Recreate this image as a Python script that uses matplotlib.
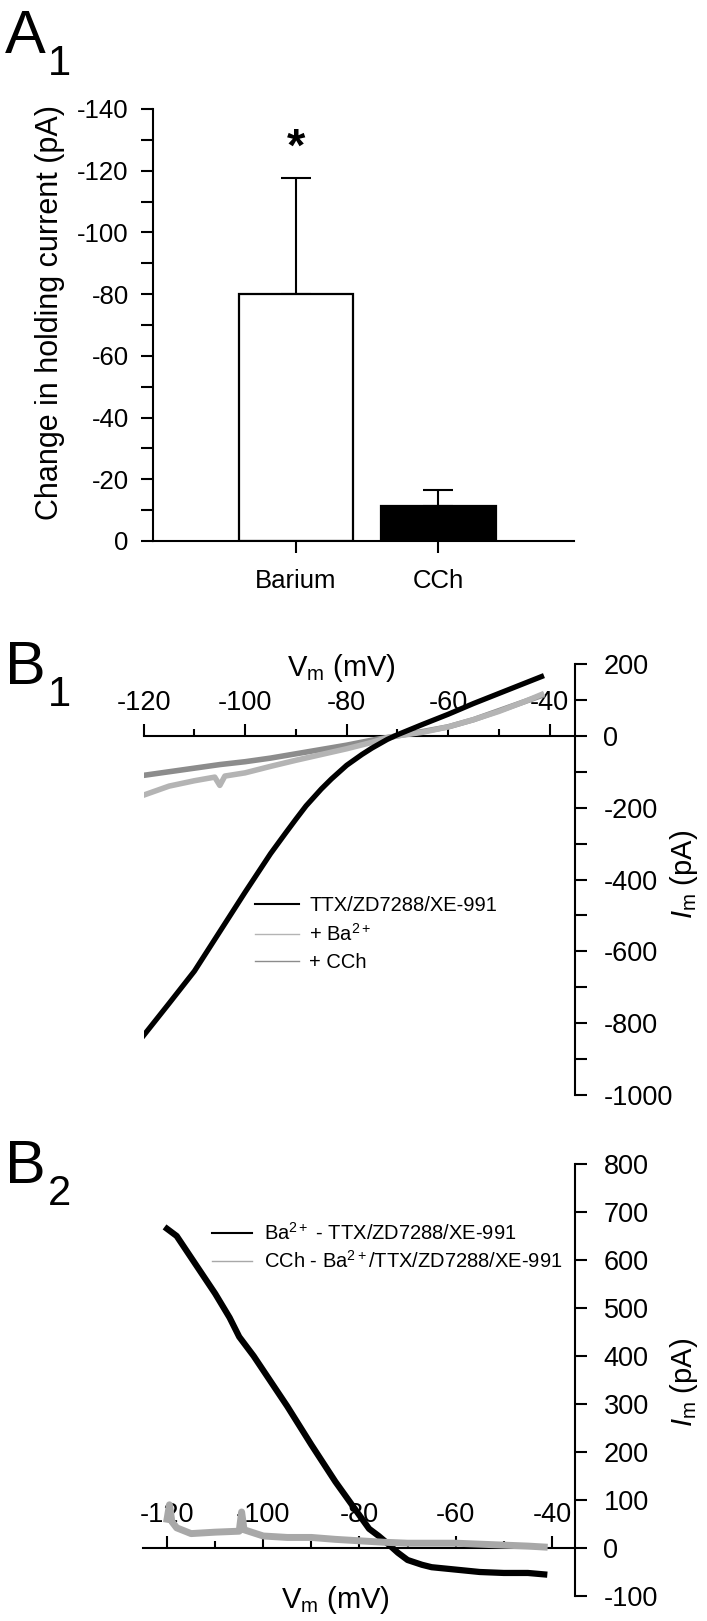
import numpy as np
import matplotlib.pyplot as plt
from matplotlib.ticker import MultipleLocator

plt.rcParams['font.family'] = ['Liberation Sans', 'DejaVu Sans']
plt.rcParams['mathtext.fontset'] = 'custom'
plt.rcParams['mathtext.rm'] = 'Liberation Sans'
plt.rcParams['mathtext.it'] = 'Liberation Sans:italic'
plt.rcParams['axes.unicode_minus'] = False

# ---- A1: change in holding current ----
groups = ['Barium', 'CCh']
holding_change = [-80.2, -11.3]
holding_sem = [37.5, 5.2]
bar_colors = ['white', 'black']

# ---- B1: I-V curves ----
vm_ttx = [-120, -115, -110, -105, -100, -95, -92, -90, -88, -85, -83, -80, -77, -75,
          -72, -70, -65, -60, -55, -50, -45, -41.6]
im_ttx = [-834, -745, -655, -545, -435, -328, -270, -232, -195, -148, -120, -82, -52, -34,
          -10, 3, 32, 60, 90, 118, 146, 165]
vm_ba = [-120, -117, -115, -110, -106, -105, -104, -100, -95, -90, -85, -80, -75,
         -72, -70, -65, -60, -55, -50, -45, -41.6]
im_ba = [-165, -150, -140, -125, -115, -138, -112, -103, -85, -68, -52, -36, -18,
         -5, 0, 10, 25, 45, 68, 95, 115]
vm_cch = [-120, -115, -110, -105, -100, -95, -90, -85, -80, -75, -70, -65, -60,
          -55, -50, -45, -41.6]
im_cch = [-110, -100, -90, -80, -72, -62, -50, -38, -26, -12, 0, 12, 25,
          45, 70, 95, 112]

# ---- B2: difference currents ----
vm_diff_ba = [-120, -118, -115, -112, -110, -107, -105, -102, -100, -95, -90, -85,
              -80, -78, -76, -74, -72, -70, -67, -65, -60, -55, -50, -45, -41.6]
im_diff_ba = [665, 650, 605, 560, 530, 480, 440, 400, 370, 295, 215, 138,
              68, 40, 25, 8, -10, -25, -35, -40, -45, -50, -52, -52, -55]
vm_diff_cch = [-120, -119.5, -119, -118, -115, -110, -105, -104.5, -104, -100, -95, -90,
               -85, -80, -75, -70, -65, -60, -55, -50, -45, -41.6]
im_diff_cch = [60, 90, 55, 42, 30, 33, 35, 75, 38, 25, 22, 22,
               18, 15, 12, 10, 10, 10, 8, 6, 4, 2]

W, H = 707, 1621
fig = plt.figure(figsize=(W / 100, H / 100), dpi=100)


def rect(left, right, top, bottom):
    return [left / W, 1 - bottom / H, (right - left) / W, (bottom - top) / H]


# panel letters
for letter, sub, base in [('A', '1', 53), ('B', '1', 684), ('B', '2', 1183)]:
    fig.text(5 / W, 1 - base / H, letter, fontsize=44, va='baseline', ha='left')
    fig.text(48 / W, 1 - (base + 22) / H, sub, fontsize=30, va='baseline', ha='left')

# ---------------- A1 ----------------
axA = fig.add_axes(rect(153, 574, 109, 541))
xpos = np.arange(1, len(groups) + 1)
axA.bar(xpos, holding_change, width=0.8, color=bar_colors, edgecolor='black',
        linewidth=1.6, zorder=2)
axA.errorbar(xpos, holding_change, yerr=[holding_sem, [0, 0]], fmt='none',
             ecolor='black', elinewidth=1.5, capsize=10.5, capthick=1.5, zorder=1)
axA.text(xpos[0], -127, '*', ha='center', va='center', fontsize=34, fontweight='bold')
axA.set_xlim(0, 2.95)
axA.set_ylim(0, -140)
axA.yaxis.set_major_locator(MultipleLocator(20))
axA.yaxis.set_minor_locator(MultipleLocator(10))
axA.set_xticks(xpos)
axA.set_xticklabels(groups)
for s in ['top', 'right']:
    axA.spines[s].set_visible(False)
for s in ['left', 'bottom']:
    axA.spines[s].set_linewidth(1.5)
axA.tick_params(axis='both', which='both', direction='out', length=8.5, width=1.5,
                labelsize=18.5)
axA.tick_params(axis='y', pad=9)
axA.tick_params(axis='x', pad=12)
fig.text(50 / W, 1 - 312 / H, 'Change in holding current (pA)', rotation=90,
         ha='center', va='center', fontsize=22)


# ---------------- B axes helper ----------------
def iv_axes(r, xlim, ylim, ymajor, yminor):
    ax = fig.add_axes(r)
    ax.set_xlim(xlim)
    ax.set_ylim(ylim)
    ax.spines['left'].set_visible(False)
    ax.spines['bottom'].set_visible(False)
    ax.spines['top'].set_position(('data', 0))
    ax.spines['top'].set_linewidth(1.5)
    ax.spines['right'].set_linewidth(1.5)
    ax.xaxis.set_ticks_position('top')
    ax.yaxis.set_ticks_position('right')
    ax.xaxis.set_major_locator(MultipleLocator(20))
    ax.set_xticks(np.arange(-110, -40, 20), minor=True)
    ax.yaxis.set_major_locator(MultipleLocator(ymajor))
    if yminor:
        ax.yaxis.set_minor_locator(MultipleLocator(yminor))
    ax.tick_params(axis='x', which='major', direction='out', length=8.5, width=1.5,
                   labelsize=19.5, pad=6, top=True, bottom=False,
                   labeltop=True, labelbottom=False)
    ax.tick_params(axis='x', which='minor', direction='out', length=5, width=1.5,
                   top=True, bottom=False)
    ax.tick_params(axis='y', which='both', direction='out', length=8.5, width=1.5,
                   labelsize=19.5, pad=12, right=True, left=False,
                   labelright=True, labelleft=False)
    ax.patch.set_alpha(0)
    return ax


# ---------------- B1 ----------------
axB1 = iv_axes(rect(143.7, 575, 664, 1095), (-120, -35), (-1000, 200), 200, 100)
axB1.plot(vm_cch, im_cch, color='#8c8c8c', lw=4, zorder=3)
axB1.plot(vm_ba, im_ba, color='#b4b4b4', lw=4, zorder=3)
axB1.plot(vm_ttx, im_ttx, color='black', lw=3.8, zorder=4)
# legend handles only
h1, = axB1.plot([], [], color='black', lw=1.5, label='TTX/ZD7288/XE-991')
h2, = axB1.plot([], [], color='#b4b4b4', lw=1, label='+ Ba$^{2+}$')
h3, = axB1.plot([], [], color='#8c8c8c', lw=1, label='+ CCh')
axB1.legend(handles=[h1, h2, h3], loc='upper left', bbox_to_anchor=(0.258, 0.462),
            frameon=False, fontsize=14.5, handlelength=2.2, handletextpad=0.5,
            labelspacing=0.4, borderpad=0, borderaxespad=0)
axB1.text(-81, 0.991, 'V$_\\mathrm{m}$ (mV)', transform=axB1.get_xaxis_transform(),
          ha='center', va='center', fontsize=21)
axB1.text(1.253, 0.5125, '$\\mathit{I}_\\mathrm{m}$ (pA)', transform=axB1.transAxes,
          ha='center', va='center', rotation=90, fontsize=21)

# ---------------- B2 ----------------
axB2 = iv_axes(rect(143, 575, 1164, 1596), (-125, -35.2), (-100, 800), 100, None)
axB2.plot(vm_diff_ba, im_diff_ba, color='black', lw=4.5, zorder=3)
axB2.plot(vm_diff_cch, im_diff_cch, color='#a8a8a8', lw=5, zorder=4)
g1, = axB2.plot([], [], color='black', lw=1.5, label='Ba$^{2+}$ - TTX/ZD7288/XE-991')
g2, = axB2.plot([], [], color='#a8a8a8', lw=1,
                label='CCh - Ba$^{2+}$/TTX/ZD7288/XE-991')
axB2.legend(handles=[g1, g2], loc='upper left', bbox_to_anchor=(0.16, 0.866),
            frameon=False, fontsize=14.5, handlelength=2.0, handletextpad=0.6,
            labelspacing=0.3, borderpad=0, borderaxespad=0)
axB2.text(-85, -0.009, 'V$_\\mathrm{m}$ (mV)', transform=axB2.get_xaxis_transform(),
          ha='center', va='center', fontsize=21)
axB2.text(1.252, 0.494, '$\\mathit{I}_\\mathrm{m}$ (pA)', transform=axB2.transAxes,
          ha='center', va='center', rotation=90, fontsize=21)

fig.savefig('out.png', dpi=100)
